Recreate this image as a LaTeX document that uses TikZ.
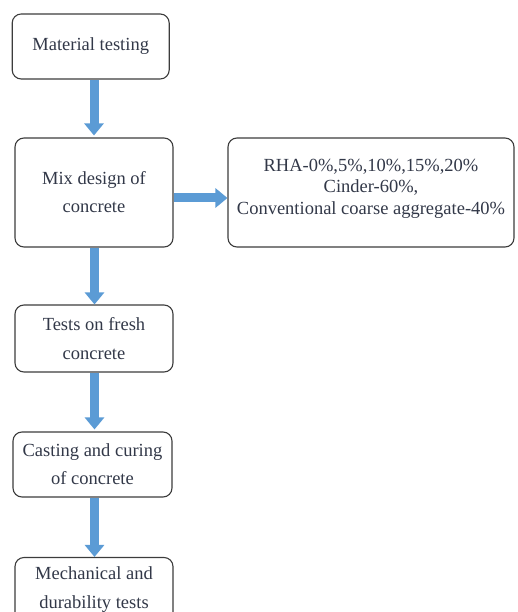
\documentclass[tikz,border=0pt]{standalone}
\usepackage{fontspec}
\setmainfont{Liberation Serif}
\usetikzlibrary{arrows.meta}
\definecolor{arrowblue}{RGB}{91,155,213}
\definecolor{boxline}{RGB}{60,60,60}
\definecolor{txt}{RGB}{50,56,72}
\begin{document}
\begin{tikzpicture}[x=1pt,y=1pt,
  box/.style={draw=boxline, line width=1.1pt, rounded corners=9pt, align=center,
    text=txt, inner sep=0pt, font=\rmfamily\fontsize{18.5}{28}\selectfont},
  boxtext/.style={align=center, text=txt, inner sep=0pt, font=\rmfamily\fontsize{18.5}{21.5}\selectfont},
  fat/.style={draw=arrowblue, line width=9pt, -{Triangle[length=12pt,width=19pt]}}]
\clip (0,0) rectangle (518,-612);
\node[box, minimum width=157, minimum height=65] (b1) at (90.7,-46.5) {Material testing};
\node[box, minimum width=158, minimum height=109] (b2) at (94,-192.5) {Mix design of\\concrete};
\node[box, minimum width=286, minimum height=109] (b6) at (371,-192.5) {};
\node[boxtext] (t6) at (371,-188.5) {RHA-0\%,5\%,10\%,15\%,20\%\\Cinder-60\%,\\Conventional coarse aggregate-40\%};
\node[box, minimum width=158, minimum height=67, font=\rmfamily\fontsize{18.5}{29}\selectfont] (b3) at (94,-338.5) {Tests on fresh\\concrete};
\node[box, minimum width=159, minimum height=65] (b4) at (92.5,-464.5) {Casting and curing\\of concrete};
\node[box, minimum width=158, minimum height=65, font=\rmfamily\fontsize{18.5}{29}\selectfont] (b5) at (94,-590) {Mechanical and\\durability tests};
\draw[fat] ([xshift=3.3pt]b1.south) -- ([yshift=2pt]b2.north);
\draw[fat] ([yshift=-5.5pt]b2.east) -- ([yshift=-5.5pt]b6.west);
\draw[fat] ([xshift=0.5pt]b2.south) -- ([xshift=0.5pt]b3.north);
\draw[fat] ([xshift=0.5pt]b3.south) -- ([xshift=2pt,yshift=2pt]b4.north);
\draw[fat] ([xshift=2pt]b4.south) -- ([xshift=0.5pt]b5.north);
\end{tikzpicture}
\end{document}
